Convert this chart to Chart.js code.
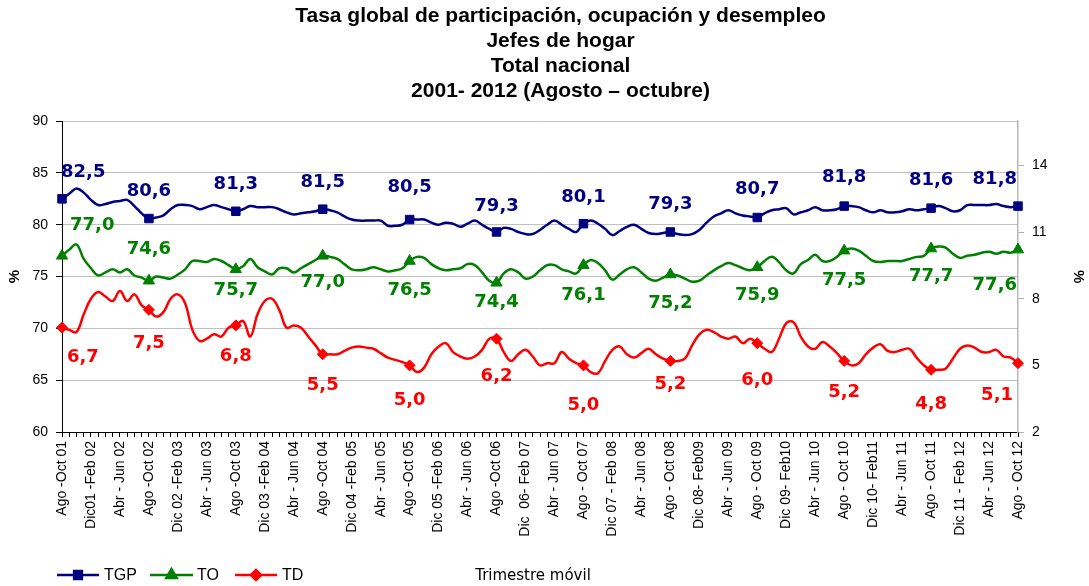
<!DOCTYPE html>
<html>
<head>
<meta charset="utf-8">
<script src="https://cdn.jsdelivr.net/npm/chart.js@4.4.1/dist/chart.umd.min.js"></script>
<style>
  body { margin: 0; background: #fff; }
  canvas { display: block; }
</style>
</head>
<body>
<canvas id="chart" width="1089" height="586"></canvas>
<script>
const titleLines = [
  'Tasa global de participación, ocupación y desempleo',
  'Jefes de hogar',
  'Total nacional',
  '2001- 2012 (Agosto – octubre)'
];

// one tick label every 4 rolling quarters
const tickLabels = [
  'Ago -Oct 01', 'Dic01 -Feb 02', 'Abr - Jun 02', 'Ago -Oct 02', 'Dic 02 -Feb 03', 'Abr - Jun 03',
  'Ago -Oct 03', 'Dic 03 -Feb 04', 'Abr - Jun 04', 'Ago -Oct 04', 'Dic 04 -Feb 05', 'Abr - Jun 05',
  'Ago -Oct 05', 'Dic 05 -Feb 06', 'Abr - Jun 06', 'Ago -Oct 06', 'Dic  06- Feb 07', 'Abr - Jun 07',
  'Ago - Oct 07', 'Dic 07 - Feb 08', 'Abr - Jun 08', 'Ago - Oct 08', 'Dic 08- Feb09', 'Abr - Jun 09',
  'Ago - Oct 09', 'Dic 09- Feb10', 'Abr - Jun 10', 'Ago - Oct 10', 'Dic 10- Feb11', 'Abr - Jun 11',
  'Ago - Oct 11', 'Dic 11 - Feb 12', 'Abr - Jun 12', 'Ago - Oct 12'
];

const tgp = [
  82.5, 83.0, 83.5, 83.1, 82.4, 81.9, 82.0, 82.2, 82.3, 82.4, 81.8, 81.1,
  80.6, 80.7, 80.9, 81.5, 81.9, 81.9, 81.8, 81.5, 81.7, 81.9, 81.7, 81.5,
  81.3, 81.5, 81.8, 81.7, 81.7, 81.7, 81.5, 81.2, 81.0, 81.1, 81.2, 81.3,
  81.5, 81.4, 81.2, 80.8, 80.5, 80.4, 80.4, 80.4, 80.4, 79.9, 79.9, 80.0,
  80.5, 80.5, 80.5, 80.2, 80.0, 80.2, 80.1, 79.8, 80.1, 80.4, 80.0, 79.6,
  79.3, 79.7, 79.6, 79.3, 79.1, 79.1, 79.5, 80.0, 80.4, 80.0, 79.6, 79.3,
  80.1, 80.4, 80.1, 79.6, 79.0, 79.4, 79.8, 80.0, 79.6, 79.2, 79.1, 79.2,
  79.3, 79.1, 79.0, 79.1, 79.5, 80.2, 80.8, 81.1, 81.4, 81.1, 80.9, 80.8,
  80.7, 81.1, 81.4, 81.5, 81.6, 81.0, 81.2, 81.4, 81.7, 81.4, 81.4, 81.5,
  81.8, 81.8, 81.7, 81.4, 81.2, 81.4, 81.2, 81.2, 81.3, 81.5, 81.4, 81.5,
  81.6, 81.8, 81.6, 81.3, 81.4, 81.9, 81.9, 81.9, 81.9, 82.0, 81.8, 81.7,
  81.8
];

const to = [
  77.0, 77.6, 78.1, 76.7, 75.8, 75.1, 75.4, 75.7, 75.4, 75.7, 75.1, 74.9,
  74.6, 75.0, 74.9, 74.8, 75.2, 75.7, 76.5, 76.5, 76.4, 76.7, 76.5, 76.1,
  75.7, 76.0, 76.7, 75.9, 75.5, 75.2, 75.8, 75.8, 75.4, 75.8, 76.2, 76.6,
  77.0, 76.9, 76.7, 76.2, 75.7, 75.6, 75.7, 75.9, 75.7, 75.5, 75.6, 75.8,
  76.5, 76.9, 76.8, 76.2, 75.8, 75.6, 75.7, 75.8, 76.2, 76.1, 75.4, 74.6,
  74.4, 75.3, 75.7, 75.4, 74.8, 75.0, 75.6, 76.1, 76.1, 75.7, 75.5, 75.3,
  76.1, 76.6, 76.3, 75.6, 74.7, 75.2, 75.7, 75.9, 75.4, 74.8, 74.6, 74.9,
  75.2, 75.1, 74.8, 74.5, 74.6, 75.1, 75.6, 76.0, 76.3, 76.1, 75.8, 75.6,
  75.9, 76.5, 76.9, 76.4, 75.6, 75.3, 76.2, 76.6, 77.1, 76.5, 76.5, 76.9,
  77.5, 77.7, 77.5, 77.0, 76.5, 76.4, 76.5, 76.5, 76.5, 76.7, 76.9, 77.0,
  77.7, 77.9, 77.8, 77.2, 76.8, 77.0, 77.1, 77.3, 77.4, 77.2, 77.4, 77.3,
  77.6
];

const td = [
  6.7, 6.6, 6.5, 7.3, 8.0, 8.3, 8.1, 7.9, 8.35, 7.9, 8.2, 7.7,
  7.5, 7.2, 7.4, 8.0, 8.2, 7.8, 6.6, 6.1, 6.2, 6.4, 6.3, 6.7,
  6.8, 7.0, 6.3, 7.3, 7.9, 8.0, 7.5, 6.7, 6.8, 6.7, 6.3, 5.9,
  5.5, 5.5, 5.5, 5.65, 5.8, 5.85, 5.8, 5.75, 5.55, 5.35, 5.25, 5.15,
  5.0, 4.7, 4.9, 5.5, 5.85, 6.0, 5.6, 5.4, 5.3, 5.4, 5.7, 6.2,
  6.2, 5.6, 5.2, 5.5, 5.7, 5.4, 5.0, 5.1, 5.1, 5.6, 5.3, 5.1,
  5.0, 4.7, 4.65, 5.2, 5.7, 5.85, 5.5, 5.35, 5.55, 5.75, 5.5, 5.3,
  5.2, 5.2, 5.3, 5.9, 6.4, 6.6, 6.5, 6.3, 6.2, 6.3, 6.0, 6.2,
  6.0, 5.75, 5.6, 6.2, 6.9, 6.95, 6.3, 5.85, 5.75, 6.05, 5.85, 5.55,
  5.2, 5.0, 5.1, 5.5, 5.8, 5.95, 5.65, 5.6, 5.7, 5.75, 5.35, 5.0,
  4.8, 4.8, 4.85, 5.3, 5.75, 5.9, 5.8, 5.6, 5.6, 5.7, 5.4, 5.35,
  5.1
];

const rightTicks = [2, 5, 8, 11, 14];

const categories = tgp.map((v, i) => (i % 4 === 0 ? tickLabels[i / 4] : ''));

// vertical offset of each data label from its marker (styling only)
const labelDy = [
  [-27, -27, -27, -27, -32, -26, -26, -28, -28, -29, -28, -27],
  [-31, -31, 21, 26, 29, 20, 30, 29, 28, 30, 28, 36],
  [30, 33, 31, 31, 35, 38, 40, 23, 37, 31, 35, 32]
];
const firstDx = [-1, 8, 5];
const lastDx = [1, 1, 5];

const colors = ['#000080', '#008000', '#ff0000'];
const markerEvery = 12;

const dataLabels = {
  id: 'dataLabels',
  afterDatasetsDraw(chart) {
    const ctx = chart.ctx;
    ctx.save();
    ctx.font = 'bold 18px "DejaVu Sans"';
    ctx.textBaseline = 'middle';
    chart.data.datasets.forEach((ds, di) => {
      const meta = chart.getDatasetMeta(di);
      ctx.fillStyle = colors[di];
      let k = 0;
      for (let i = 0; i < ds.data.length; i += markerEvery, k++) {
        const pt = meta.data[i];
        const txt = ds.data[i].toFixed(1).replace('.', ',');
        let x = pt.x;
        ctx.textAlign = 'center';
        if (i === 0) { ctx.textAlign = 'left'; x += firstDx[di]; }
        if (i === ds.data.length - 1) { ctx.textAlign = 'right'; x -= lastDx[di]; }
        ctx.fillText(txt, x, pt.y + labelDy[di][k]);
      }
    });
    ctx.restore();
  }
};

const bottomRow = {
  id: 'bottomRow',
  afterLayout(chart) {
    // title in the original sits a bit right of centre
    if (chart.titleBlock) { chart.titleBlock.left += 16; chart.titleBlock.right += 16; }
  },
  afterDraw(chart) {
    const ctx = chart.ctx;
    const y = 575;
    const items = [
      { x0: 57, x1: 99, tx: 104, style: 'rect', r: 5.5 },
      { x0: 150, x1: 193, tx: 197, style: 'triangle', r: 6 },
      { x0: 235, x1: 277, tx: 282, style: 'rectRot', r: 5 }
    ];
    ctx.save();
    chart.data.datasets.forEach((ds, di) => {
      const it = items[di];
      ctx.strokeStyle = colors[di];
      ctx.fillStyle = colors[di];
      ctx.lineWidth = 2.5;
      ctx.beginPath();
      ctx.moveTo(it.x0, y);
      ctx.lineTo(it.x1, y);
      ctx.stroke();
      Chart.helpers.drawPoint(ctx, { pointStyle: it.style, radius: it.r, borderWidth: 1 }, (it.x0 + it.x1) / 2, y);
      ctx.fillStyle = '#000';
      ctx.font = '16px "Liberation Sans", Arial';
      ctx.textAlign = 'left';
      ctx.textBaseline = 'middle';
      ctx.fillText(ds.label, it.tx, y + 1);
    });
    ctx.font = '15px "DejaVu Sans"';
    ctx.textAlign = 'center';
    ctx.fillStyle = '#000';
    ctx.fillText('Trimestre móvil', 533, y + 1);
    ctx.restore();
  }
};

function markerRadius(c) { return c.dataIndex % markerEvery === 0 ? 6 : 0; }

function series(label, data, idx, style, axis, r) {
  return {
    label: label,
    data: data,
    yAxisID: axis,
    borderColor: colors[idx],
    backgroundColor: colors[idx],
    borderWidth: 2.5,
    tension: 0.4,
    pointStyle: style,
    pointRadius: c => (c.dataIndex % markerEvery === 0 ? r : 0),
    pointHoverRadius: 0,
    pointBorderWidth: 1,
    clip: false
  };
}

new Chart(document.getElementById('chart'), {
  type: 'line',
  data: {
    labels: categories,
    datasets: [
      series('TGP', tgp, 0, 'rect', 'y', 6),
      series('TO', to, 1, 'triangle', 'y', 6.5),
      series('TD', td, 2, 'rectRot', 'y1', 5.5)
    ]
  },
  options: {
    responsive: false,
    animation: false,
    events: [],
    layout: { padding: { left: 0, right: 0, top: 0, bottom: 40 } },
    plugins: {
      legend: { display: false },
      tooltip: { enabled: false },
      title: {
        display: true,
        text: titleLines,
        color: '#000',
        font: { family: '"Liberation Sans", Arial', size: 21, weight: 'bold', lineHeight: 1.18 },
        padding: { top: 4, bottom: 18 }
      }
    },
    scales: {
      x: {
        offset: false,
        afterFit: s => { s.height = 114; },
        grid: { drawOnChartArea: false, drawTicks: true, tickLength: 5, tickColor: '#000' },
        border: { color: '#000', width: 1 },
        ticks: {
          autoSkip: false,
          minRotation: 90,
          maxRotation: 90,
          padding: 4,
          color: '#000',
          font: { family: '"Liberation Sans", Arial', size: 14 },
          callback: (v, i) => categories[i]
        }
      },
      y: {
        position: 'left',
        min: 60,
        max: 90,
        afterFit: s => { s.width = 62; },
        grid: { color: '#c0c0c0', lineWidth: 1, tickColor: '#000', tickLength: 6 },
        border: { color: '#000', width: 1 },
        ticks: { stepSize: 5, padding: 8, color: '#000', font: { family: '"Liberation Sans", Arial', size: 14 } },
        title: { display: true, text: '%', color: '#000', font: { family: '"Liberation Sans", Arial', size: 15, weight: 'bold' }, padding: { top: 6, bottom: 0 } }
      },
      y1: {
        position: 'right',
        min: 2,
        max: 16,
        afterFit: s => { s.width = 71; },
        afterBuildTicks: s => { s.ticks = rightTicks.map(v => ({ value: v })); },
        grid: { drawOnChartArea: false, color: '#b0b0b0', tickLength: 6 },
        border: { color: '#b8b8b8', width: 1.5 },
        ticks: { padding: 8, color: '#000', font: { family: '"Liberation Sans", Arial', size: 14 } },
        title: { display: true, text: '%', color: '#000', font: { family: '"Liberation Sans", Arial', size: 15, weight: 'bold' }, padding: { top: 2, bottom: 0 } }
      }
    }
  },
  plugins: [dataLabels, bottomRow]
});
</script>
</body>
</html>
